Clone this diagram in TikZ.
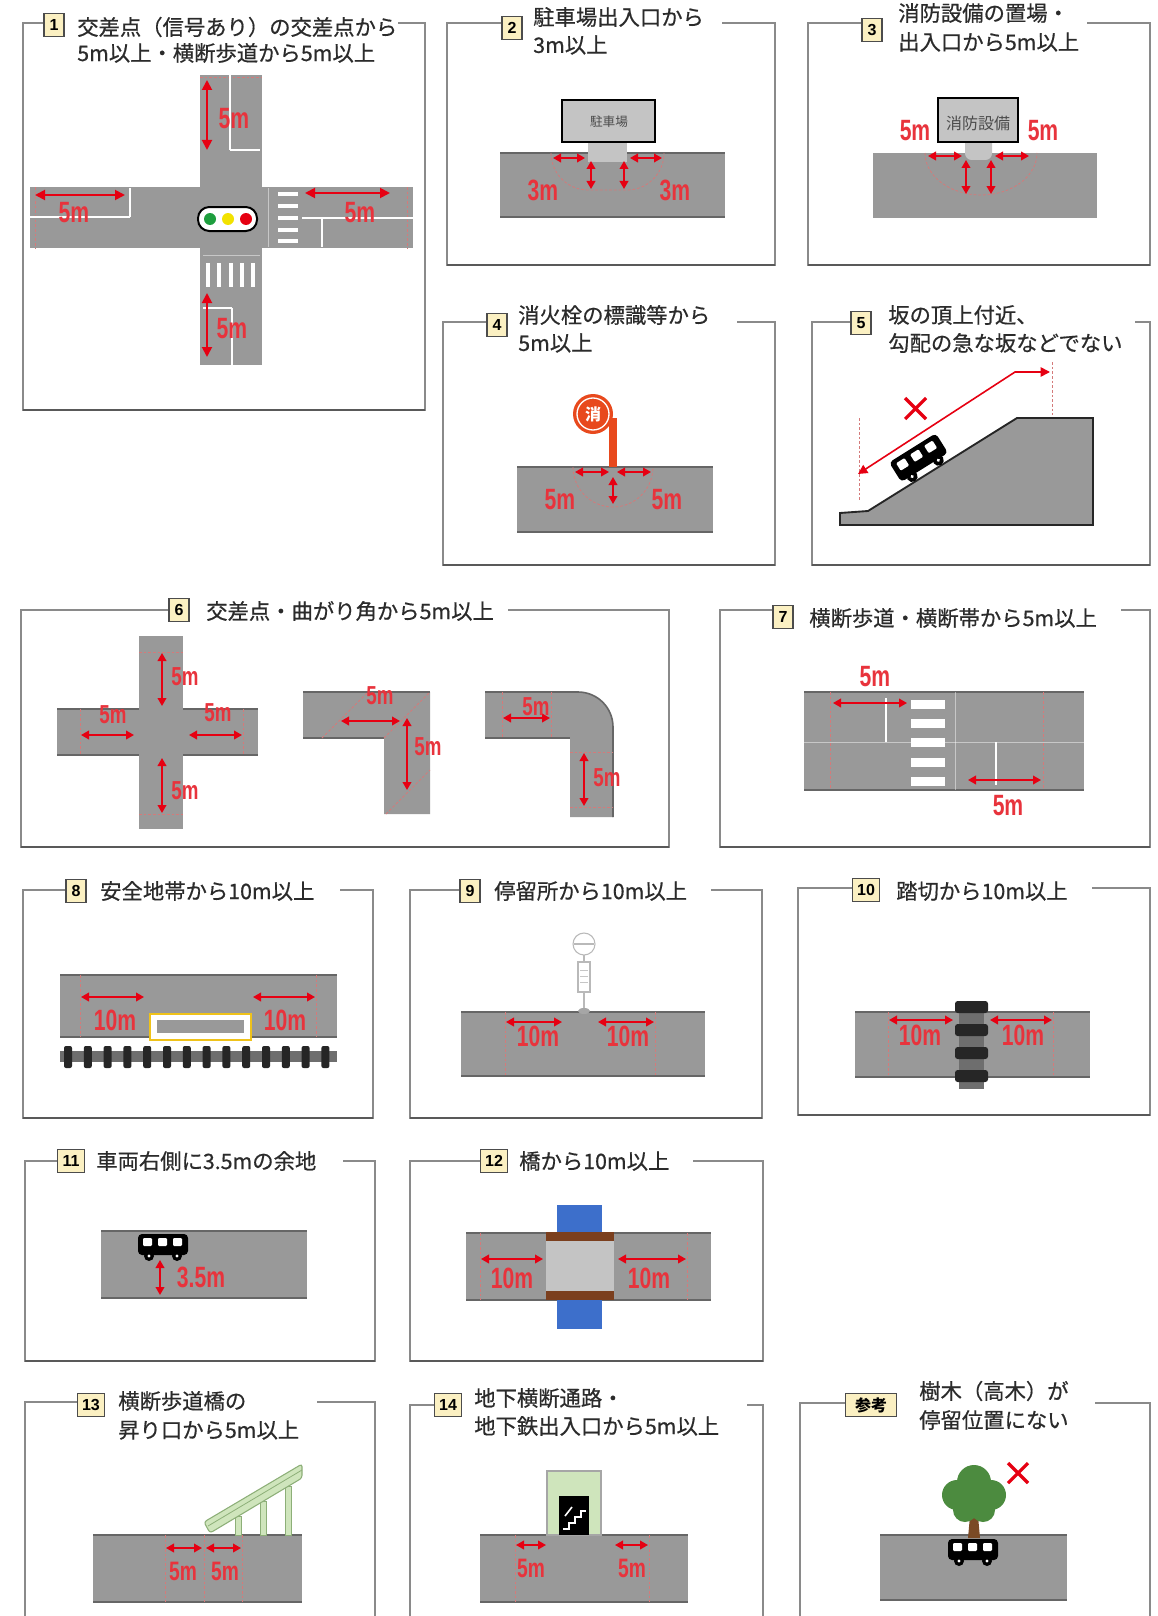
\documentclass[tikz,border=0pt]{standalone}
\usepackage{fontspec}
\setmainfont{Noto Sans CJK JP}
\newfontfamily\titlefont[FakeBold=0.6]{Noto Sans CJK JP}
\newfontfamily\numfont[FakeStretch=0.72]{Liberation Sans}
\newfontfamily\boxfont{Liberation Sans}
\usetikzlibrary{arrows.meta}
\definecolor{roadgray}{HTML}{999999}
\definecolor{mred}{HTML}{E60012}
\definecolor{lred}{HTML}{E8333C}
\definecolor{framegray}{HTML}{8A8A8A}
\definecolor{boxfill}{HTML}{FBF0C2}
\definecolor{titlegray}{HTML}{2B2B2B}
\definecolor{limitred}{HTML}{D47A7A}
\definecolor{lightroad}{HTML}{C4C4C4}
\definecolor{signred}{HTML}{E8491D}
\definecolor{tlgreen}{HTML}{1E9E3E}
\definecolor{tlyellow}{HTML}{F2E200}
\definecolor{zoneyellow}{HTML}{EFC21A}
\definecolor{railgray}{HTML}{6E6E6E}
\definecolor{riverblue}{HTML}{3D6FCB}
\definecolor{bridgebrown}{HTML}{7B3F1E}
\definecolor{stairgreen}{HTML}{CFE5BC}
\definecolor{stairedge}{HTML}{8DAF78}
\definecolor{treegreen}{HTML}{4C8B3F}
\definecolor{trunkbrown}{HTML}{7A4A25}
% panel outline: left, top, right, bottom, start and end of the title gap
\newcommand{\panelframe}[6]{%
  \draw[frame] (#5,#2) -- (#1,#2) -- (#1,#4) -- (#3,#4) -- (#3,#2) -- (#6,#2);
  \draw[framebot] (#1,#4) -- (#3,#4);}
% panel outline running off the lower edge of the sheet
\newcommand{\openframe}[5]{%
  \draw[frame] (#1,1616) -- (#1,#2) -- (#4,#2);
  \draw[frame] (#5,#2) -- (#3,#2) -- (#3,1616);}
% road strip with dark kerb lines
\newcommand{\roadrect}[4]{%
  \fill[roadgray] (#1,#2) rectangle (#3,#4);
  \draw[kerb] (#1,#2) -- (#3,#2);
  \draw[kerb] (#1,#4) -- (#3,#4);}
\tikzset{busicon/.pic={
  \fill[black,rounded corners=3pt] (-25,-13) rectangle (25,8);
  \fill[white,rounded corners=0.8pt] (-20,-9) rectangle (-11,-1) (-5,-9) rectangle (4,-1) (10,-9) rectangle (19,-1);
  \fill[black] (-14,9) circle (5) (14,9) circle (5);
  \fill[white] (-14,9) circle (1.6) (14,9) circle (1.6);
}}
\begin{document}
\begin{tikzpicture}[x=0.75pt,y=-0.75pt,
  frame/.style={draw=framegray,line width=0.9pt},
  framebot/.style={draw=black!65,line width=1.3pt},
  kerb/.style={draw=black!60,line width=1.2pt},
  dimarrow/.style={draw=mred,line width=1.3pt,{Triangle[length=6pt,width=6.5pt]}-{Triangle[length=6pt,width=6.5pt]}},
  bigarrow/.style={draw=mred,line width=1.4pt,{Triangle[length=7.5pt,width=7.5pt]}-{Triangle[length=7.5pt,width=7.5pt]}},
  dimlabel/.style={text=lred,font=\numfont\bfseries\fontsize{22}{22}\selectfont,inner sep=0pt},
  smalllabel/.style={text=lred,font=\numfont\bfseries\fontsize{19.5}{20}\selectfont,inner sep=0pt},
  midlabel/.style={text=lred,font=\numfont\bfseries\fontsize{20}{20}\selectfont,inner sep=0pt},
  limit/.style={draw=limitred,line width=0.6pt,dash pattern=on 2pt off 1.5pt},
  title/.style={anchor=west,text=titlegray,font=\titlefont\fontsize{16}{16}\selectfont,inner sep=0pt},
  numbox/.style={draw=black!70,fill=boxfill,line width=0.8pt,minimum width=15pt,minimum height=17pt,inner sep=1pt,font=\boxfont\bfseries\fontsize{12}{12}\selectfont},
  lane/.style={draw=white,line width=1.2pt},
  stopline/.style={draw=white,line width=2pt},
  faint/.style={draw=white,opacity=0.45,line width=0.7pt},
  redcross/.style={draw=mred,line width=2.4pt},
]
\useasboundingbox[fill=white] (0,0) rectangle (1157,1616);

% ---------- 1: signalised intersection ----------
\panelframe{23}{23}{425}{410}{43}{398}
\node[numbox] (n1) at (54,25) {1};
\node[title] (t1a) at (77,27) {交差点（信号あり）の交差点から};
\node[title] (t1b) at (77,53) {5m以上・横断歩道から5m以上};
\fill[roadgray] (200,75) rectangle (262,365);
\fill[roadgray] (30,187) rectangle (413,248);
\draw[limit] (200,77) -- (262,77);
\draw[limit] (35,187) -- (35,248);
\draw[limit] (407,187) -- (407,248);
\draw[lane] (230,75) -- (230,150);  \draw[stopline] (230,150) -- (260,150);
\draw[lane] (30,217) -- (130,217);  \draw[stopline] (130,188) -- (130,217);
\draw[lane] (302,218) -- (413,218); \draw[stopline] (322,218) -- (322,247);
\draw[lane] (232,308) -- (232,365); \draw[stopline] (203,308) -- (232,308);
\foreach \y in {194,206,218,230,241} \fill[white] (278,\y-2.2) rectangle (298,\y+2.2);
\foreach \x in {208,219,231,242,253} \fill[white] (\x-2,263) rectangle (\x+2,287);
\draw[faint] (268,188) -- (268,247);
\draw[faint] (203,255) -- (260,255);
\draw[black,line width=1.5pt,fill=white,rounded corners=8.5pt] (198,207) rectangle (257,231);
\fill[tlgreen] (210,219) circle (6);
\fill[tlyellow] (228,219) circle (6);
\fill[mred] (246,219) circle (6);
\draw[bigarrow] (207,80) -- (207,150);
\draw[bigarrow] (35,195) -- (125,195);
\draw[bigarrow] (305,193) -- (390,193);
\draw[bigarrow] (207,293) -- (207,357);
\node[dimlabel] (l1a) at (234,119) {5m};
\node[dimlabel] (l1b) at (74,213) {5m};
\node[dimlabel] (l1c) at (360,213) {5m};
\node[dimlabel] (l1d) at (232,329) {5m};

% ---------- 2: car park entrance ----------
\panelframe{447}{23}{775}{265}{503}{722}
\node[numbox] (n2) at (512,28) {2};
\node[title] (t2a) at (533,17) {駐車場出入口から};
\node[title] (t2b) at (533,45) {3m以上};
\roadrect{500}{153}{725}{217}
\fill[lightroad] (588,141) rectangle (627,162);
\draw[black,line width=2.2pt,fill=lightroad] (562,100) rectangle (655,142);
\node[text=black!70,font=\fontsize{9.5}{10}\selectfont,inner sep=0pt] (b2) at (609,122) {駐車場};
\draw[limit] (551,153) arc[start angle=180,end angle=90,radius=37] -- (627,190) arc[start angle=90,end angle=0,radius=37];
\draw[dimarrow] (553,158) -- (585,158);
\draw[dimarrow] (630,158) -- (662,158);
\draw[dimarrow] (591,161) -- (591,189);
\draw[dimarrow] (624,161) -- (624,189);
\node[dimlabel] (l2a) at (543,190) {3m};
\node[dimlabel] (l2b) at (675,190) {3m};

% ---------- 3: fire equipment store ----------
\panelframe{808}{23}{1150}{265}{863}{1087}
\node[numbox] (n3) at (872,30) {3};
\node[title] (t3a) at (898,13) {消防設備の置場・};
\node[title] (t3b) at (898,42) {出入口から5m以上};
\fill[roadgray] (873,153) rectangle (1097,218);
\fill[lightroad,rounded corners=5pt] (965,136) rectangle (992,160);
\draw[black,line width=2.2pt,fill=lightroad] (938,98) rectangle (1018,142);
\node[text=black!70,font=\fontsize{12}{12}\selectfont,inner sep=0pt] (b3) at (978,123) {消防設備};
\draw[limit] (925,153) arc[start angle=180,end angle=0,x radius=56,y radius=42];
\draw[dimarrow] (928,156) -- (962,156);
\draw[dimarrow] (995,156) -- (1029,156);
\draw[dimarrow] (966,160) -- (966,194);
\draw[dimarrow] (991,160) -- (991,194);
\node[dimlabel] (l3a) at (915,131) {5m};
\node[dimlabel] (l3b) at (1043,131) {5m};

% ---------- 4: hydrant sign ----------
\panelframe{443}{322}{775}{565}{488}{737}
\node[numbox] (n4) at (497,325) {4};
\node[title] (t4a) at (518,315) {消火栓の標識等から};
\node[title] (t4b) at (518,343) {5m以上};
\roadrect{517}{467}{713}{532}
\fill[signred] (609,418) rectangle (617,467);
\fill[signred] (593,414) circle (20);
\draw[white,line width=1pt] (593,414) circle (16);
\node[text=white,font=\bfseries\fontsize{12}{12}\selectfont,inner sep=0pt] (s4) at (593,414) {消};
\draw[limit] (573,467) arc[start angle=180,end angle=0,radius=40];
\draw[dimarrow] (575,472) -- (609,472);
\draw[dimarrow] (617,472) -- (651,472);
\draw[dimarrow] (613,477) -- (613,504);
\node[dimlabel] (l4a) at (560,500) {5m};
\node[dimlabel] (l4b) at (667,500) {5m};

% ---------- 5: slope ----------
\panelframe{812}{322}{1150}{565}{852}{1135}
\node[numbox] (n5) at (861,323) {5};
\node[title] (t5a) at (888,315) {坂の頂上付近、};
\node[title] (t5b) at (888,343) {勾配の急な坂などでない};
\draw[fill=roadgray,draw=black!85,line width=1.4pt] (840,525) -- (840,513) -- (868,511) -- (1017,418) -- (1093,418) -- (1093,525) -- cycle;
\draw[limit] (859,418) -- (859,502);
\draw[limit] (1052,362) -- (1052,415);
\draw[mred,line width=1.2pt,{Triangle[length=7pt,width=7pt]}-{Triangle[length=7pt,width=7pt]}] (858,474) -- (1015,372) -- (1050,372);
\draw[redcross] (905,398) -- (926,419) (926,398) -- (905,419);
\pic[rotate=32,scale=1.1] at (920,460) {busicon};

% ---------- 6: intersections and corners ----------
\panelframe{21}{610}{669}{847}{168}{508}
\node[numbox] (n6) at (179,610) {6};
\node[title] (t6) at (206,611) {交差点・曲がり角から5m以上};
\roadrect{57}{709}{258}{755}
\fill[roadgray] (139,636) rectangle (183,829);
\draw[limit] (139,652) -- (183,652);
\draw[limit] (139,814) -- (183,814);
\draw[limit] (80,709) -- (80,755);
\draw[limit] (243,709) -- (243,755);
\draw[dimarrow] (162,653) -- (162,706);
\draw[dimarrow] (81,735) -- (134,735);
\draw[dimarrow] (189,735) -- (242,735);
\draw[dimarrow] (162,758) -- (162,813);
\node[smalllabel] (l6a) at (185,677) {5m};
\node[smalllabel] (l6b) at (113,715) {5m};
\node[smalllabel] (l6c) at (218,713) {5m};
\node[smalllabel] (l6d) at (185,791) {5m};
% square corner
\fill[roadgray] (303,692) -- (430,692) -- (430,814) -- (384,814) -- (384,738) -- (303,738) -- cycle;
\draw[kerb] (303,692) -- (430,692);
\draw[kerb] (303,738) -- (384,738);
\draw[limit] (384,738) -- (430,692);
\draw[limit] (322,738) -- (368,692);
\draw[limit] (386,814) -- (430,770);
\draw[dimarrow] (341,721) -- (400,721);
\draw[dimarrow] (407,718) -- (407,790);
\node[smalllabel] (l6e) at (380,696) {5m};
\node[smalllabel] (l6f) at (428,747) {5m};
% rounded corner
\fill[roadgray] (485,692) -- (578,692) arc[start angle=270,end angle=360,radius=35] -- (613,817) -- (570,817) -- (570,738) -- (485,738) -- cycle;
\draw[kerb] (485,692) -- (578,692) arc[start angle=270,end angle=360,radius=35] -- (613,817);
\draw[kerb] (485,738) -- (570,738);
\draw[limit] (502,692) -- (502,738);
\draw[limit] (551,692) -- (551,738);
\draw[limit] (570,752) -- (613,752);
\draw[limit] (570,807) -- (613,807);
\draw[dimarrow] (503,718) -- (550,718);
\draw[dimarrow] (584,753) -- (584,806);
\node[smalllabel] (l6g) at (536,707) {5m};
\node[smalllabel] (l6h) at (607,778) {5m};

% ---------- 7: pedestrian crossing ----------
\panelframe{720}{610}{1150}{847}{774}{1121}
\node[numbox] (n7) at (783,617) {7};
\node[title] (t7) at (809,618) {横断歩道・横断帯から5m以上};
\roadrect{804}{692}{1084}{790}
\draw[faint] (804,742) -- (1084,742);
\draw[faint] (955,692) -- (955,790);
\foreach \y in {704,723,742,762,781} \fill[white] (911,\y-4.5) rectangle (945,\y+4.5);
\draw[stopline] (886,698) -- (886,742);
\draw[stopline] (996,742) -- (996,785);
\draw[limit] (830,692) -- (830,790);
\draw[limit] (1043,692) -- (1043,790);
\draw[dimarrow] (833,703) -- (907,703);
\draw[dimarrow] (968,780) -- (1041,780);
\node[dimlabel] (l7a) at (875,677) {5m};
\node[dimlabel] (l7b) at (1008,806) {5m};

% ---------- 8: safety zone ----------
\panelframe{23}{890}{373}{1118}{66}{340}
\node[numbox] (n8) at (76,891) {8};
\node[title] (t8) at (100,891) {安全地帯から10m以上};
\roadrect{60}{975}{337}{1037}
\draw[zoneyellow,line width=2.2pt,fill=white] (150,1014) rectangle (251,1040);
\fill[roadgray] (157,1020) rectangle (244,1033);
\fill[railgray] (60,1051) rectangle (337,1062);
\foreach \k in {0,...,13} \fill[black!85,rounded corners=1.5pt] ({64+19.8*\k},1046) rectangle ({72+19.8*\k},1068);
\draw[limit] (80,975) -- (80,1037);
\draw[limit] (316,975) -- (316,1037);
\draw[dimarrow] (81,997) -- (144,997);
\draw[dimarrow] (253,997) -- (315,997);
\node[dimlabel] (l8a) at (115,1020) {10m};
\node[dimlabel] (l8b) at (285,1020) {10m};

% ---------- 9: bus stop ----------
\panelframe{410}{890}{762}{1118}{461}{711}
\node[numbox] (n9) at (470,891) {9};
\node[title] (t9) at (494,891) {停留所から10m以上};
\roadrect{461}{1012}{705}{1076}
\draw[gray!55,line width=1.2pt] (584,955) -- (584,1008);
\draw[gray!55,fill=white,line width=0.8pt] (584,944) circle (11);
\draw[gray!55,line width=2pt] (574,944) -- (594,944);
\draw[gray!55,fill=white,line width=0.8pt] (578,962) rectangle (590,992);
\draw[gray!45] (580,970) -- (588,970) (580,976) -- (588,976) (580,982) -- (588,982);
\fill[gray!70] (584,1011) ellipse (6 and 3);
\draw[limit] (505,1012) -- (505,1076);
\draw[limit] (655,1012) -- (655,1076);
\draw[dimarrow] (506,1022) -- (562,1022);
\draw[dimarrow] (598,1022) -- (654,1022);
\node[dimlabel] (l9a) at (538,1036) {10m};
\node[dimlabel] (l9b) at (628,1036) {10m};

% ---------- 10: level crossing ----------
\panelframe{798}{888}{1150}{1115}{853}{1092}
\node[numbox,minimum width=20pt] (n10) at (866,890) {10};
\node[title] (t10) at (896,891) {踏切から10m以上};
\roadrect{855}{1012}{1090}{1077}
\fill[railgray] (959,1001) rectangle (984,1089);
\foreach \y in {1001,1024,1047,1070} \fill[black!85,rounded corners=2pt] (955,\y) rectangle (988,\y+12);
\draw[limit] (888,1012) -- (888,1077);
\draw[limit] (1053,1012) -- (1053,1077);
\draw[dimarrow] (889,1020) -- (953,1020);
\draw[dimarrow] (990,1020) -- (1052,1020);
\node[dimlabel] (l10a) at (920,1035) {10m};
\node[dimlabel] (l10b) at (1023,1035) {10m};

% ---------- 11: room on the right ----------
\panelframe{25}{1161}{375}{1361}{59}{343}
\node[numbox,minimum width=20pt] (n11) at (71,1161) {11};
\node[title] (t11) at (96,1161) {車両右側に3.5mの余地};
\roadrect{101}{1231}{307}{1298}
\pic at (163,1247) {busicon};
\draw[dimarrow] (160,1260) -- (160,1295);
\node[dimlabel] (l11) at (201,1277) {3.5m};

% ---------- 12: bridge ----------
\panelframe{410}{1161}{763}{1361}{481}{693}
\node[numbox,minimum width=20pt] (n12) at (494,1161) {12};
\node[title] (t12) at (519,1161) {橋から10m以上};
\roadrect{466}{1233}{711}{1300}
\fill[riverblue] (557,1205) rectangle (602,1329);
\fill[lightroad] (546,1236) rectangle (614,1298);
\fill[bridgebrown] (546,1232) rectangle (614,1241);
\fill[bridgebrown] (546,1291) rectangle (614,1300);
\draw[limit] (480,1233) -- (480,1300);
\draw[limit] (687,1233) -- (687,1300);
\draw[dimarrow] (481,1259) -- (543,1259);
\draw[dimarrow] (618,1259) -- (686,1259);
\node[dimlabel] (l12a) at (512,1278) {10m};
\node[dimlabel] (l12b) at (649,1278) {10m};

% ---------- 13: footbridge ----------
\openframe{25}{1402}{375}{78}{317}
\node[numbox,minimum width=20pt] (n13) at (91,1405) {13};
\node[title] (t13a) at (118,1401) {横断歩道橋の};
\node[title] (t13b) at (118,1430) {昇り口から5m以上};
\roadrect{93}{1535}{302}{1602}
\foreach \x/\yy in {238/1516,263/1501,288/1486} \draw[stairedge,fill=stairgreen,line width=0.6pt] (\x-3,\yy) rectangle (\x+3,1535);
\draw[stairedge,fill=stairgreen,line width=0.8pt,rounded corners=2pt] (204,1522) -- (302,1464) -- (302,1478) -- (210,1533) -- cycle;
\draw[stairedge,line width=0.6pt] (208,1526) -- (302,1470);
\draw[limit] (165,1535) -- (165,1602);
\draw[limit] (204,1535) -- (204,1602);
\draw[limit] (242,1535) -- (242,1602);
\draw[dimarrow] (166,1548) -- (202,1548);
\draw[dimarrow] (206,1548) -- (241,1548);
\node[midlabel] (l13a) at (183,1571) {5m};
\node[midlabel] (l13b) at (225,1571) {5m};

% ---------- 14: underground entrance ----------
\openframe{410}{1405}{763}{436}{747}
\node[numbox,minimum width=20pt] (n14) at (448,1405) {14};
\node[title] (t14a) at (474,1398) {地下横断通路・};
\node[title] (t14b) at (474,1426) {地下鉄出入口から5m以上};
\roadrect{480}{1535}{688}{1602}
\draw[gray!70,fill=stairgreen,line width=0.8pt] (547,1471) rectangle (601,1535);
\fill[black] (559,1496) rectangle (589,1535);
\draw[white,line width=1.6pt] (563,1529) -- (569,1529) -- (569,1523) -- (575,1523) -- (575,1517) -- (581,1517) -- (581,1511) -- (586,1511);
\draw[white,line width=1.2pt] (565,1516) -- (572,1507);
\draw[limit] (515,1535) -- (515,1602);
\draw[limit] (649,1535) -- (649,1602);
\draw[dimarrow] (516,1545) -- (546,1545);
\draw[dimarrow] (615,1545) -- (648,1545);
\node[midlabel] (l14a) at (531,1568) {5m};
\node[midlabel] (l14b) at (632,1568) {5m};

% ---------- reference: tall trees ----------
\openframe{800}{1403}{1150}{845}{1095}
\node[numbox,minimum width=38pt,font=\bfseries\fontsize{12}{12}\selectfont] (nref) at (871,1405) {参考};
\node[title] (tra) at (919,1391) {樹木（高木）が};
\node[title] (trb) at (919,1420) {停留位置にない};
\roadrect{880}{1535}{1067}{1600}
\fill[trunkbrown] (971,1505) -- (977,1505) -- (980,1538) -- (968,1538) -- cycle;
\fill[treegreen] (974,1482) circle (17) (957,1495) circle (15) (991,1495) circle (15) (965,1510) circle (12) (983,1510) circle (12) (974,1497) circle (18);
\pic at (973,1552) {busicon};
\draw[redcross] (1008,1463) -- (1028,1483) (1028,1463) -- (1008,1483);
\end{tikzpicture}
\end{document}
